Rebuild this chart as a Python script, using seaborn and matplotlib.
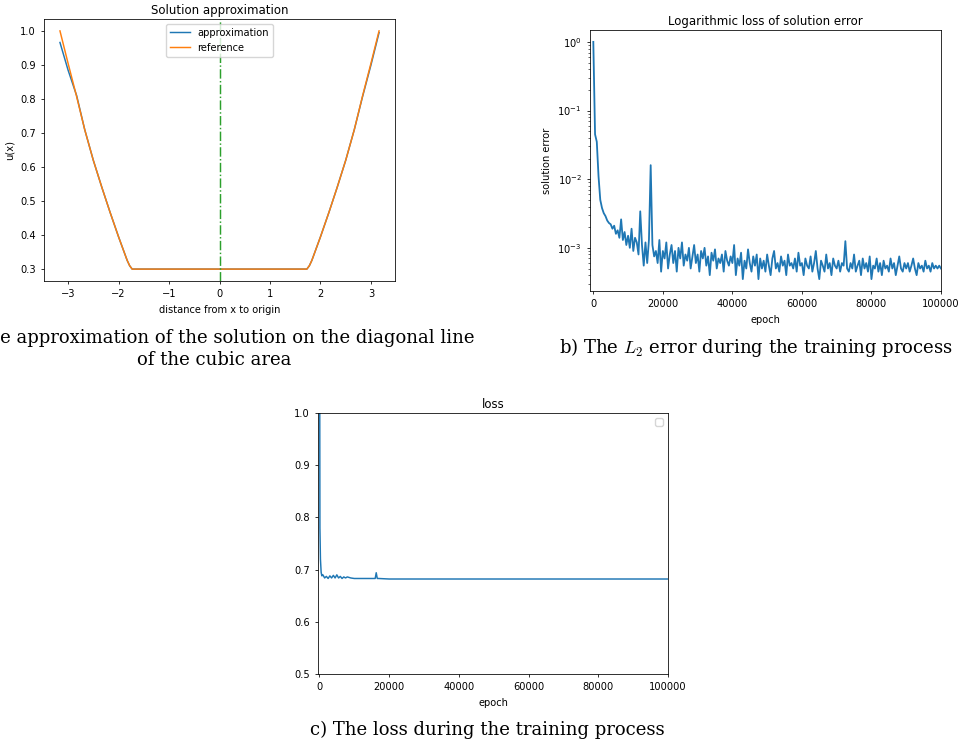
import numpy as np
import matplotlib
matplotlib.use("Agg")
import matplotlib.pyplot as plt
import seaborn as sns

# panel a: solution along the diagonal (distance from origin -> u(x))
ref_x = [-3.16, -3.0, -2.83, -2.67, -2.5, -2.33, -2.17, -2.0, -1.83, -1.78, -1.73,
         0.0,
         1.73, 1.78, 1.83, 2.0, 2.17, 2.33, 2.5, 2.67, 2.83, 3.0, 3.16]
ref_u = [1.0, 0.905, 0.807, 0.71, 0.62, 0.54, 0.468, 0.395, 0.326, 0.31, 0.3,
         0.3,
         0.3, 0.31, 0.326, 0.395, 0.468, 0.54, 0.62, 0.71, 0.807, 0.905, 1.0]
approx_u = [0.966, 0.885, 0.81, 0.71, 0.62, 0.54, 0.468, 0.395, 0.326, 0.31, 0.3,
            0.3,
            0.3, 0.31, 0.326, 0.395, 0.468, 0.54, 0.62, 0.71, 0.805, 0.9, 0.995]

# panel b: L2 solution error, one value every 500 epochs (in units of 1e-3)
err_epoch = np.arange(0, 100001, 500)
err_e3 = [
    1000, 45, 35, 11, 5.0, 3.8, 3.2, 2.9, 2.5, 2.3, 2.2, 1.9, 2.1, 1.6, 1.8, 1.4, 2.6, 1.3, 1.7, 1.1,
    1.5, 1.0, 1.9, 0.9, 1.4, 1.2, 0.8, 3.4, 1.1, 0.55, 1.2, 0.6, 1.3, 16, 1.1, 0.75, 0.9, 0.6, 1.3, 0.45,
    0.9, 0.7, 1.2, 0.5, 0.8, 1.1, 0.6, 0.9, 0.45, 1.0, 0.7, 1.2, 0.55, 0.8, 0.65, 1.0, 0.5, 0.75, 1.1, 0.6,
    0.8, 0.45, 0.9, 0.7, 1.0, 0.55, 0.75, 0.4, 0.85, 0.65, 0.95, 0.5, 0.7, 0.6, 0.8, 0.45, 0.9, 0.65, 0.55, 0.75,
    0.6, 1.1, 0.4, 0.7, 0.55, 0.85, 0.35, 0.65, 0.5, 0.95, 0.6, 0.45, 0.75, 0.55, 0.8, 0.35, 0.7, 0.5, 0.65, 0.45,
    0.8, 0.55, 0.4, 0.7, 0.9, 0.5, 0.6, 0.45, 0.75, 0.55, 0.65, 0.4, 0.8, 0.55, 0.6, 0.5, 0.7, 0.45, 0.85, 0.55,
    0.6, 0.4, 0.7, 0.55, 0.5, 0.75, 0.45, 0.6, 0.9, 0.5, 0.35, 0.65, 0.55, 0.45, 0.8, 0.5, 0.6, 0.4, 0.7, 0.55,
    0.5, 0.65, 0.45, 0.6, 0.55, 1.25, 0.5, 0.45, 0.6, 0.5, 0.8, 0.45, 0.55, 0.65, 0.4, 0.7, 0.5, 0.6, 0.45, 0.75,
    0.35, 0.55, 0.5, 0.7, 0.45, 0.6, 0.4, 0.65, 0.5, 0.55, 0.45, 0.7, 0.5, 0.6, 0.4, 0.55, 0.75, 0.5, 0.45, 0.6,
    0.5, 0.6, 0.45, 0.55, 0.7, 0.5, 0.4, 0.6, 0.5, 0.55, 0.45, 0.65, 0.5, 0.55, 0.45, 0.6, 0.5, 0.55, 0.5, 0.55,
    0.5,
]

# panel c: training loss
loss_epoch = [0, 150, 300, 500, 700, 1000, 1500, 2000, 2500, 3000, 3500, 4000, 4500, 5000,
              5500, 6000, 6500, 7000, 7500, 8000, 9000, 10000, 12000, 14000, 16000, 16300,
              16600, 17000, 20000, 40000, 60000, 80000, 100000]
loss_values = [1.5, 0.78, 0.72, 0.695, 0.688, 0.690, 0.684, 0.687, 0.683, 0.688, 0.684, 0.689,
               0.684, 0.690, 0.684, 0.687, 0.683, 0.686, 0.684, 0.686, 0.684, 0.683, 0.683,
               0.683, 0.683, 0.694, 0.683, 0.683, 0.682, 0.682, 0.682, 0.682, 0.682]

# figure was scaled down to ~0.71 of default size, so shrink everything
plt.rcParams.update({
    "font.size": 7.1,
    "axes.titlesize": 8.5,
    "axes.titlepad": 3.5,
    "axes.labelsize": 7.1,
    "xtick.labelsize": 7.1,
    "ytick.labelsize": 7.1,
    "legend.fontsize": 7.1,
    "lines.linewidth": 1.06,
    "axes.linewidth": 0.57,
    "xtick.major.size": 2.5,
    "ytick.major.size": 2.5,
    "xtick.major.width": 0.57,
    "ytick.major.width": 0.57,
    "ytick.minor.size": 1.4,
    "ytick.minor.width": 0.42,
})

fig = plt.figure(figsize=(9.59, 7.45), dpi=100)
blue, orange, green = "#1f77b4", "#ff7f0e", "#2ca02c"

# a) solution approximation
ax1 = fig.add_axes([0.0459, 0.6228, 0.366, 0.3517])
sns.lineplot(x=ref_x, y=approx_u, ax=ax1, color=blue, label="approximation")
sns.lineplot(x=ref_x, y=ref_u, ax=ax1, color=orange, label="reference")
ax1.axvline(0, color=green, linestyle="-.")
ax1.set_title("Solution approximation")
ax1.set_xlabel("distance from x to origin")
ax1.set_ylabel("u(x)")
ax1.legend(loc="upper center")

# b) L2 error
ax2 = fig.add_axes([0.6152, 0.6094, 0.366, 0.3503])
sns.lineplot(x=err_epoch, y=np.array(err_e3) * 1e-3, ax=ax2, color=blue, linewidth=1.3)
ax2.set_yscale("log")
ax2.set_xlim(-960, 100000)
ax2.set_title("Logarithmic loss of solution error")
ax2.set_xlabel("epoch")
ax2.set_ylabel("solution error")

# c) loss
ax3 = fig.add_axes([0.3316, 0.0953, 0.365, 0.3503])
sns.lineplot(x=loss_epoch, y=loss_values, ax=ax3, color=blue)
ax3.set_xlim(-400, 100000)
ax3.set_ylim(0.5, 1.0)
ax3.set_title("loss")
ax3.set_xlabel("epoch")
ax3.legend(handles=[], loc="upper right")

# captions (the first one runs past the left edge in the original too)
cap = dict(family="DejaVu Serif", fontsize=13, color="black")
fig.text(214 / 959, 1 - 349 / 745, "a) The approximation of the solution on the diagonal line\nof the cubic area",
         ha="center", va="center", multialignment="center", linespacing=1.25, **cap)
fig.text(559 / 959, 1 - 347 / 745, "b) The $L_2$ error during the training process",
         ha="left", va="center", math_fontfamily="cm", **cap)
fig.text(487 / 959, 1 - 730 / 745, "c) The loss during the training process",
         ha="center", va="center", **cap)

fig.savefig("out.png", dpi=100)
